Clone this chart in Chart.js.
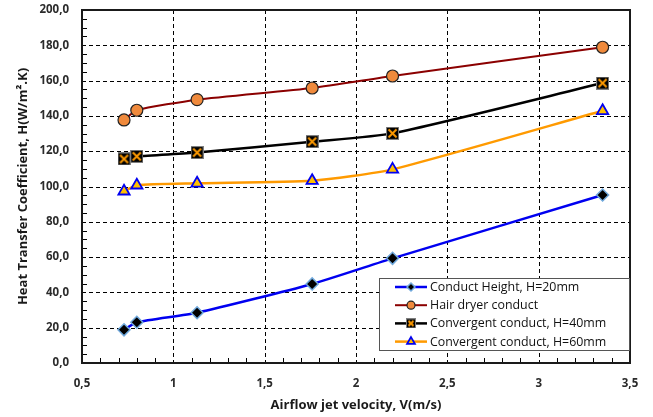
<!DOCTYPE html>
<html>
<head>
<meta charset="utf-8">
<script src="https://cdn.jsdelivr.net/npm/chart.js@4.4.0/dist/chart.umd.min.js"></script>
<style>
  html, body { margin: 0; padding: 0; background: #fff; }
  #wrap { width: 653px; height: 417px; }
</style>
</head>
<body>
<div id="wrap"><canvas id="chart" width="653" height="417"></canvas></div>
<script>
// Valores
const velocidade = [0.73, 0.8, 1.13, 1.76, 2.2, 3.35];
const alturaH20 = [18.8, 23.1, 28.5, 44.8, 59.3, 95.2];
const secador = [137.7, 143.2, 149.2, 155.8, 162.6, 178.9];
const convergH40 = [115.6, 117.1, 119.2, 125.4, 130.1, 158.6];
const convergH60 = [97.3, 100.7, 101.8, 103.3, 109.7, 142.9];
const nomes = ['Conduct Height, H=20mm', 'Hair dryer conduct', 'Convergent conduct, H=40mm', 'Convergent conduct, H=60mm'];

const fmt = v => String(Number(v.toFixed(1))).replace('.', ',');

// marcador quadrado preto com X laranja
function quadradoX(size) {
    const c = document.createElement('canvas');
    c.width = size; c.height = size;
    const g = c.getContext('2d');
    g.fillStyle = '#000';
    g.fillRect(0, 0, size, size);
    g.strokeStyle = '#7f7f7f';
    g.lineWidth = 1;
    g.strokeRect(0.5, 0.5, size - 1, size - 1);
    g.strokeStyle = '#ff9a00';
    g.lineWidth = 2;
    g.beginPath();
    g.moveTo(2.5, 2.5); g.lineTo(size - 2.5, size - 2.5);
    g.moveTo(size - 2.5, 2.5); g.lineTo(2.5, size - 2.5);
    g.stroke();
    return c;
}
const marcaX = quadradoX(13);
const marcaXLeg = quadradoX(10);

const pares = arr => velocidade.map((v, i) => ({ x: v, y: arr[i] }));

const datasets = [
    { label: nomes[0], data: pares(alturaH20), borderColor: '#0000f0', borderWidth: 2.5,
      pointStyle: 'rectRot', pointRadius: 6, pointBackgroundColor: '#000', pointBorderColor: '#6fa8dc', pointBorderWidth: 1.5,
      legR: 4 },
    { label: nomes[1], data: pares(secador), borderColor: '#8b0000', borderWidth: 2,
      pointStyle: 'circle', pointRadius: 6, pointBackgroundColor: '#f08a3c', pointBorderColor: '#222', pointBorderWidth: 1.2,
      legR: 4 },
    { label: nomes[2], data: pares(convergH40), borderColor: '#000', borderWidth: 2.5,
      pointStyle: marcaX, pointRadius: 6, legImg: marcaXLeg },
    { label: nomes[3], data: pares(convergH60), borderColor: '#ff9a00', borderWidth: 2.5,
      pointStyle: 'triangle', pointRadius: 6.5, pointBackgroundColor: '#ffc000', pointBorderColor: '#0000f0', pointBorderWidth: 1.8,
      legR: 4.5 }
].map(d => Object.assign(d, { showLine: true, tension: 0.2, fill: false }));

// grade tracejada
const grade = {
    id: 'grade',
    beforeDatasetsDraw(chart) {
        const { ctx, chartArea: a, scales: { x, y } } = chart;
        ctx.save();
        ctx.strokeStyle = '#000';
        ctx.lineWidth = 1;
        ctx.setLineDash([4, 3]);
        x.ticks.forEach(t => {
            const px = Math.round(x.getPixelForValue(t.value)) + 0.5;
            ctx.beginPath(); ctx.moveTo(px, a.top); ctx.lineTo(px, a.bottom); ctx.stroke();
        });
        y.ticks.forEach(t => {
            const py = Math.round(y.getPixelForValue(t.value)) + 0.5;
            ctx.beginPath(); ctx.moveTo(a.left, py); ctx.lineTo(a.right, py); ctx.stroke();
        });
        ctx.restore();
    }
};

// moldura, marcas menores e legenda
const extras = {
    id: 'extras',
    afterDraw(chart) {
        const { ctx, chartArea: a, scales: { x, y } } = chart;
        ctx.save();
        ctx.strokeStyle = '#000';
        ctx.lineWidth = 1;
        for (let v = 0; v <= 200; v += 5) {
            if (v % 20 === 0) continue;
            const py = Math.round(y.getPixelForValue(v)) + 0.5;
            ctx.beginPath(); ctx.moveTo(a.left, py); ctx.lineTo(a.left + 5, py); ctx.stroke();
        }
        for (let k = 5; k <= 35; k++) {
            if (k % 5 === 0) continue;
            const px = Math.round(x.getPixelForValue(k / 10)) + 0.5;
            ctx.beginPath(); ctx.moveTo(px, a.bottom); ctx.lineTo(px, a.bottom - 5); ctx.stroke();
        }
        ctx.strokeStyle = '#1a1a1a';
        ctx.lineWidth = 2;
        ctx.strokeRect(a.left, a.top, a.right - a.left, a.bottom - a.top);

        // legenda
        const bx = 379, by = 278, bw = 250, bh = 72;
        ctx.fillStyle = '#fff';
        ctx.fillRect(bx, by, bw, bh);
        ctx.strokeStyle = '#555';
        ctx.lineWidth = 1;
        ctx.strokeRect(bx + 0.5, by + 0.5, bw, bh);
        ctx.font = '12.4px "Open Sans", sans-serif';
        ctx.textBaseline = 'middle';
        chart.data.datasets.forEach((d, i) => {
            const cy = by + 9 + i * 18.2;
            ctx.strokeStyle = d.borderColor;
            ctx.lineWidth = d.borderWidth;
            ctx.beginPath(); ctx.moveTo(395, cy); ctx.lineTo(427, cy); ctx.stroke();
            if (d.legImg) {
                ctx.drawImage(d.legImg, 411 - 5, cy - 5);
            } else {
                ctx.fillStyle = d.pointBackgroundColor;
                ctx.strokeStyle = d.pointBorderColor;
                ctx.lineWidth = d.pointBorderWidth;
                Chart.helpers.drawPoint(ctx, {
                    pointStyle: d.pointStyle, radius: d.legR, rotation: 0, borderWidth: d.pointBorderWidth
                }, 411, cy);
            }
            ctx.fillStyle = '#111';
            ctx.fillText(d.label, 430, cy + 0.5);
        });
        ctx.restore();
    }
};

const fonteTick = { family: '"Open Sans", sans-serif', size: 11.5, weight: 'bold' };
const fonteTitulo = { family: '"Open Sans", sans-serif', size: 13, weight: 'bold' };

new Chart(document.getElementById('chart'), {
    type: 'scatter',
    data: { datasets },
    options: {
        responsive: false,
        animation: false,
        layout: { padding: { left: 0, right: 23, top: 10, bottom: 0 } },
        plugins: { legend: { display: false }, tooltip: { enabled: false } },
        scales: {
            x: {
                type: 'linear', min: 0.5, max: 3.5,
                ticks: { stepSize: 0.5, color: '#2b2b2b', font: fonteTick, padding: 14, callback: v => fmt(v) },
                grid: { display: false, drawTicks: false },
                border: { display: false },
                title: { display: true, text: 'Airflow jet velocity, V(m/s)', color: '#1a1a1a', font: fonteTitulo, padding: { top: 4, bottom: 4 } },
                afterFit: s => { s.height = 54; s.paddingLeft = 0; s.paddingRight = 0; }
            },
            y: {
                min: 0, max: 200,
                ticks: { stepSize: 20, color: '#2b2b2b', font: fonteTick, padding: 13, callback: v => fmt(v).includes(',') ? fmt(v) : fmt(v) + ',0' },
                grid: { display: false, drawTicks: false },
                border: { display: false },
                title: { display: true, text: 'Heat Transfer Coefficient, H(W/m\u00b2.K)', color: '#1a1a1a', font: fonteTitulo, padding: { top: 15, bottom: 0 } },
                afterFit: s => { s.width = 82; s.paddingTop = 0; s.paddingBottom = 0; }
            }
        }
    },
    plugins: [grade, extras]
});
</script>
</body>
</html>
